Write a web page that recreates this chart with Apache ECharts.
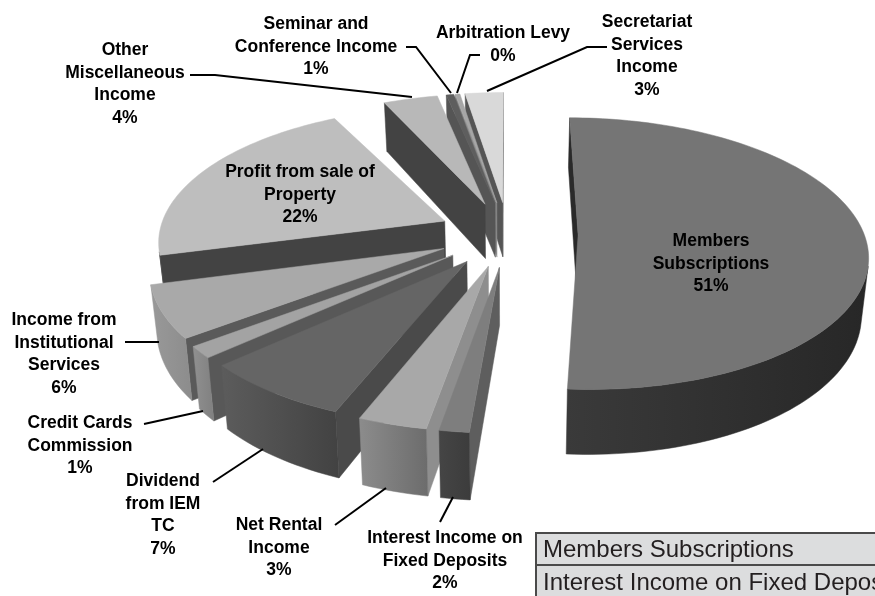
<!DOCTYPE html>
<html><head><meta charset="utf-8"><style>html,body{margin:0;padding:0;background:#fff;overflow:hidden}#c{width:875px;height:596px}</style>
<script src="https://cdn.jsdelivr.net/npm/echarts@6/dist/echarts.min.js"></script></head>
<body><div id="c"></div><script>
const categories=['Members\nSubscriptions','Interest Income on\nFixed Deposits','Net Rental\nIncome','Dividend\nfrom IEM\nTC','Credit Cards\nCommission','Income from\nInstitutional\nServices','Profit from sale of\nProperty','Other\nMiscellaneous\nIncome','Seminar and\nConference Income','Arbitration Levy','Secretariat\nServices\nIncome'];
const values=[51.2,1.7,3.3,7.3,1.4,6.2,21.5,4.4,0.5,0.3,2.5];
const tableRows=['Members Subscriptions','Interest Income on Fixed Deposits'];
// styling per slice: top, wall, rim gradient ends, start-edge trim in degrees
const topColors=['#757575','#7e7e7e','#a8a8a8','#656565','#a3a3a3','#a9a9a9','#bebebe','#b8b8b8','#5e5e5e','#a6a6a6','#d9d9d9'];
const wallColors=['#2a2a2a','#5e5e5e','#8e8e8e','#4a4a4a','#585858','#5a5a5a','#434343','#434343','#555555','#8a8a8a','#555555'];
const rimA=['#3a3a3a','#454545','#8c8c8c','#5c5c5c','#909090','#999999','#434343','#8a8a8a','#666666','#8a8a8a','#999999'];
const rimB=['#272727','#3c3c3c','#6c6c6c','#424242','#808080','#8c8c8c','#434343','#8a8a8a','#666666','#8a8a8a','#999999'];
const startTrim=[0,1,0,0,0,0,0,3,0,0,0];
const drawOrder=[10,9,8,7,6,5,4,3,2,1,0];
const labelCentres=[[711,241],[445,538],[279,525],[163,481],[80,423],[64,320],[300,172],[125,50],[316,24],[503,33],[647,22]];
const leaders=[null,[[440,522],[453,497]],[[335,525],[386,488]],[[213,482],[263,449]],[[144,424],[203,411]],[[125,342],[159,342]],null,[[190,75],[215,75],[412,97]],[[406,47],[416,47],[451,93]],[[480,55],[470,55],[457,93]],[[607,47],[587,47],[487,91]]];

const CX=508,CY=234,RX=286,RY=133,K=0.1365,EXPL=0.245,DEPTH=56,BOTTOM_SCALE=0.98,ROT=0;
const total=values.reduce((a,b)=>a+b,0);
const rad=d=>d*Math.PI/180;
let acc=ROT;
const spans=values.map(v=>{const s=acc;acc+=v/total*360;return [s,acc];});
function project(th,r,mid,bottom){
  const u=EXPL*Math.sin(rad(mid))+r*Math.sin(rad(th));
  const v=EXPL*Math.cos(rad(mid))+r*Math.cos(rad(th));
  const w=1+K*v;
  let x=CX+RX*u/w, y=CY-RY*v/w;
  if(bottom){x=CX+(x-CX)*BOTTOM_SCALE;y+=DEPTH/w;}
  return [x,y];
}
function signedArea(p){let a=0;p.forEach((q,i)=>{const r=p[(i+1)%p.length];a+=q[0]*r[1]-r[0]*q[1];});return a;}
function renderItem(params,api){
  const i=api.value(0);
  const s=spans[i][0]+startTrim[i],e=spans[i][1];const mid=(spans[i][0]+e)/2;
  const n=Math.max(3,Math.ceil((e-s)/1.5));
  const arcT=[],arcB=[];
  for(let j=0;j<=n;j++){const th=s+(e-s)*j/n;arcT.push(project(th,1,mid,false));arcB.push(project(th,1,mid,true));}
  const aT=project(0,0,mid,false),aB=project(0,0,mid,true);
  const poly=(pts,fill)=>({type:'polygon',shape:{points:pts},style:{fill:fill,stroke:fill,lineWidth:0.5}});
  const grad={type:'linear',x:0,y:0,x2:1,y2:0,colorStops:[{offset:0,color:rimA[i]},{offset:1,color:rimB[i]}]};
  const children=[];
  const startWall=[aT,arcT[0],arcB[0],aB],endWall=[aT,arcT[n],arcB[n],aB];
  if(signedArea(startWall)<0)children.push(poly(startWall,wallColors[i]));
  if(signedArea(endWall)>0)children.push(poly(endWall,wallColors[i]));
  // outer rim: only the segments that face the viewer
  const rimT=[],rimB2=[];
  for(let j=0;j<n;j++){
    if(signedArea([arcT[j],arcT[j+1],arcB[j+1],arcB[j]])<0){
      if(!rimT.length){rimT.push(arcT[j]);rimB2.push(arcB[j]);}
      rimT.push(arcT[j+1]);rimB2.push(arcB[j+1]);
    }
  }
  if(rimT.length)children.push(poly(rimT.concat(rimB2.slice().reverse()),grad));
  children.push(poly([aT].concat(arcT),topColors[i]));
  return {type:'group',children:children};
}
const LH=22.8,FONT='bold 17.5px "Liberation Sans", Arial, sans-serif';
const graphic=[];
categories.forEach((c,i)=>{
  const lines=c.split('\n').concat([Math.round(values[i])+'%']);
  const [x,y0]=labelCentres[i];
  lines.forEach((t,j)=>graphic.push({type:'text',z:20,x:x,y:y0+j*LH,style:{text:t,font:FONT,fill:'#000',align:'center',verticalAlign:'middle'}}));
  if(leaders[i])graphic.push({type:'polyline',z:19,shape:{points:leaders[i]},style:{stroke:'#000',lineWidth:2,fill:null}});
});
graphic.push({type:'rect',z:21,shape:{x:536,y:533,width:345,height:32},style:{fill:'#dcddde',stroke:'#4a4a4a',lineWidth:2}});
graphic.push({type:'rect',z:21,shape:{x:536,y:565,width:345,height:40},style:{fill:'#dcddde',stroke:'#4a4a4a',lineWidth:2}});
tableRows.forEach((t,j)=>graphic.push({type:'text',z:22,x:543,y:550+j*33,style:{text:t,font:'24px "Liberation Sans", Arial, sans-serif',fill:'#231f20',align:'left',verticalAlign:'middle'}}));
const chart=echarts.init(document.getElementById('c'),null,{renderer:'canvas'});
chart.setOption({animation:false,backgroundColor:'#fff',graphic:graphic,
  series:[{type:'custom',coordinateSystem:'none',renderItem:renderItem,silent:true,
    data:drawOrder.map(i=>[i,values[i]])}]});
</script></body></html>
